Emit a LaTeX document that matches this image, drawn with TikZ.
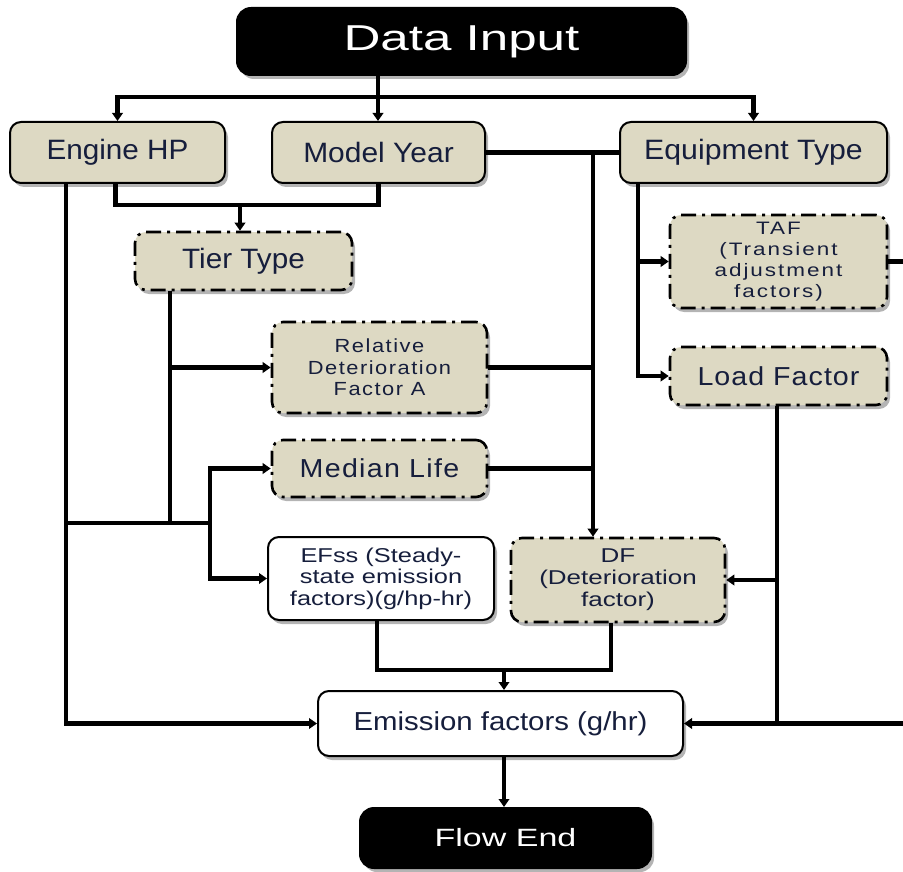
\documentclass[tikz,border=0pt]{standalone}
\usepackage{fontspec}
\setmainfont{Liberation Sans}
\usetikzlibrary{arrows.meta,shadows,calc}
\definecolor{beige}{RGB}{221,217,195}
\definecolor{navy}{RGB}{22,30,60}
\definecolor{shadowgray}{RGB}{130,130,130}
\newcommand{\boxfont}[3]{\fontsize{#1}{#2}\selectfont\addfontfeature{FakeStretch=#3}}
\newcommand{\boxfontls}[4]{\fontsize{#1}{#2}\selectfont\addfontfeature{FakeStretch=#3,LetterSpace=#4}}
\tikzset{
  base/.style={rounded corners=11pt, draw=black, line width=2pt, align=center, text=navy, inner sep=1pt,
    drop shadow={shadow xshift=3pt, shadow yshift=-4pt, fill=shadowgray, opacity=0.6}},
  solidbox/.style={base, fill=beige},
  dashbox/.style={base, fill=beige, line width=2.6pt, dash pattern=on 15pt off 6pt on 3pt off 6pt},
  whitebox/.style={base, fill=white},
  blackbox/.style={base, fill=black, text=white, rounded corners=14pt},
  conn/.style={line width=4.5pt, draw=black},
  arr/.style={conn, -{Triangle[length=8pt,width=10.5pt]}},
}
\begin{document}
\begin{tikzpicture}[x=1pt,y=-1pt]
\useasboundingbox (0,0) rectangle (903,872);
% nodes
\node[blackbox, minimum width=449pt, minimum height=67pt, font={\boxfont{36}{40}{1.42}}] (datain) at (461.5,41.5) {Data Input};
\node[solidbox, minimum width=215pt, minimum height=61pt, font={\boxfont{28}{32}{1.06}}] (ehp) at (117.5,152.5) {Engine HP};
\node[solidbox, minimum width=213pt, minimum height=61pt, font={\boxfont{28}{32}{1.07}}] (my) at (378.5,152.5) {Model Year};
\node[solidbox, minimum width=267pt, minimum height=61pt, font={\boxfont{28}{32}{1.08}}] (eqt) at (753.5,152.5) {Equipment Type};
\node[dashbox, minimum width=217pt, minimum height=58pt, font={\boxfont{28}{32}{1.06}}] (tier) at (243.5,261) {Tier Type};
\node[dashbox, minimum width=215pt, minimum height=91pt, font={\boxfontls{19}{21.5}{1.15}{8}}] (rdf) at (379.5,367.5) {Relative\\Deterioration\\Factor A};
\node[dashbox, minimum width=215pt, minimum height=57pt, font={\boxfontls{26}{30}{1.1}{5}}] (ml) at (379.5,468.5) {Median Life};
\node[dashbox, minimum width=217pt, minimum height=93pt, font={\boxfontls{18}{21}{1.25}{11}}] (taf) at (778.5,261.5) {TAF\\(Transient\\adjustment\\factors)};
\node[dashbox, minimum width=217pt, minimum height=58pt, font={\boxfontls{26}{30}{1.1}{4}}] (lf) at (778.5,376) {Load Factor};
\node[whitebox, minimum width=226pt, minimum height=83pt, font={\boxfont{20}{21.5}{1.27}}] (efss) at (381,578.5) {\rule{0pt}{8pt}EFss (Steady-\\state emission\\factors)(g/hp-hr)};
\node[dashbox, minimum width=214pt, minimum height=84pt, font={\boxfont{20}{22}{1.3}}] (df) at (618,580) {\rule{0pt}{6pt}DF\\(Deterioration\\factor)};
\node[whitebox, minimum width=365pt, minimum height=65pt, font={\boxfont{26}{30}{1.13}}] (ef) at (500.5,723.5) {Emission factors (g/hr)};
\node[blackbox, minimum width=291pt, minimum height=60pt, font={\boxfont{25}{28}{1.36}}] (fe) at (505.5,838) {Flow End};
% helper coordinates
\coordinate (bus) at (378,97);
\coordinate (tj) at (240,205);
\coordinate (xl) at (66,0);
\coordinate (hj) at (66,523);
\coordinate (xt) at (170,0);
\coordinate (xm) at (210,0);
\coordinate (xd) at (593,0);
\coordinate (xe) at (638,0);
\coordinate (xf) at (777,0);
\coordinate (edge) at (903,0);
\coordinate (mj) at (504,670);
% connectors
\draw[arr] (datain.south -| bus) -- (my.north -| bus);
\draw[arr] (bus) -| (ehp.north);
\draw[arr] (bus) -| (eqt.north);
\draw[conn] ([xshift=-2pt]ehp.south) |- (tj) -| (my.south);
\draw[arr] (tj) -- (tj |- tier.north);
\draw[arr] (xl |- ehp.south) |- (ef.west);
\draw[conn] (xt |- tier.south) -- (xt |- hj);
\draw[arr] (xt |- rdf.west) -- (rdf.west);
\draw[conn] (hj) -- (xm |- hj);
\draw[arr] (xm |- hj) |- (ml.west);
\draw[arr] (xm |- hj) |- (efss.west);
\draw[conn] (my.east) -- (eqt.west);
\draw[arr] (xd |- my.east) -- (xd |- df.north);
\draw[conn] (rdf.east) -- (xd |- rdf.east);
\draw[conn] (ml.east) -- (xd |- ml.east);
\draw[arr] (xe |- eqt.south) |- (lf.west);
\draw[arr] (xe |- taf.west) -- (taf.west);
\draw[conn] (taf.east) -- (edge |- taf.east);
\draw[arr] (xf |- lf.south) |- (ef.east);
\draw[arr] (xf |- df.east) -- (df.east);
\draw[conn] (edge |- ef.east) -- (xf |- ef.east);
\draw[conn] ([xshift=-4pt]efss.south) |- (mj) -| ([xshift=-7pt]df.south);
\draw[arr] (mj) -- (mj |- ef.north);
\draw[arr] (ef.south -| mj) -- (fe.north -| mj);
\end{tikzpicture}
\end{document}
